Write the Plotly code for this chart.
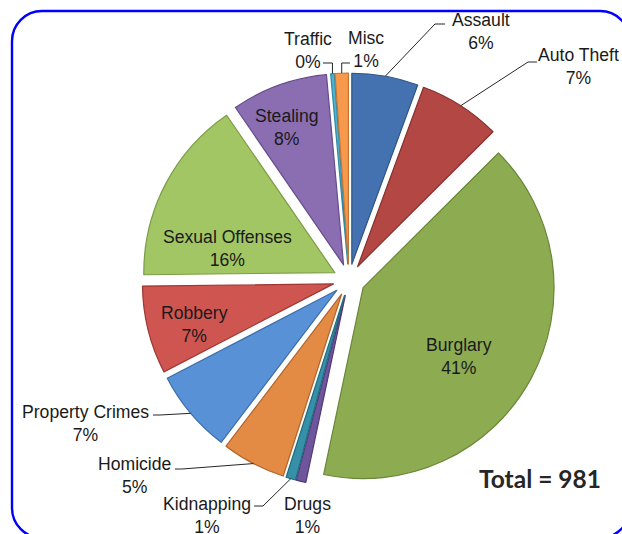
import math
import plotly.graph_objects as go

# ---------------- data ----------------
categories = ["Assault", "Auto Theft", "Burglary", "Drugs", "Kidnapping", "Homicide",
              "Property Crimes", "Robbery", "Sexual Offenses", "Stealing", "Traffic", "Misc"]
counts = [55, 68, 400, 8, 8, 53, 69, 73, 153, 80, 3, 11]

# ---------------- style ----------------
slice_colors = ["#4472B0", "#B24744", "#8DAC52", "#6F559C", "#3690A8", "#E38B45",
                "#5991D6", "#CF5551", "#A3C664", "#8B6DB2", "#4FB2CF", "#F7994C"]
edge_colors = ["#2F5488", "#86302E", "#6A8639", "#4F3A78", "#1F6B80", "#B0652A",
               "#3C6DAA", "#9E3632", "#7C9C45", "#664C8A", "#2F8AA5", "#C77430"]

W, H = 622, 534
DOM_X = [0.2283, 0.8939]
DOM_Y = [0.0880, 0.8633]
PULL = 0.084
FONT = "Liberation Sans, Arial, sans-serif"
FS = 17.6
TXT = "#1a1a1a"

# label layout (pixel positions of label centres), inside labels
inside_pos = {
    "Burglary": (459, 356),
    "Sexual Offenses": (227, 249),
    "Robbery": (194, 324),
    "Stealing": (287, 127),
}
# outside labels: centre, leader start point, knee x (None -> vertical drop)
outside_pos = {
    "Traffic": ((308, 50), (323, 63), None),
    "Misc": ((366, 49), (350, 63), None),
    "Assault": ((481, 31), (445, 24), 435),
    "Auto Theft": ((578, 67), (537, 62), 528),
    "Property Crimes": ((85, 423), (153, 415), 160),
    "Homicide": ((134, 475), (175, 469), 182),
    "Kidnapping": ((207, 515), (254, 506), 263),
    "Drugs": ((307, 515), None, None),
}


def px(x):
    return x / W


def py(y):
    return 1 - y / H


# pie geometry as plotly computes it (margins are zero)
box_w = W * (DOM_X[1] - DOM_X[0])
box_h = H * (DOM_Y[1] - DOM_Y[0])
cx = W * (DOM_X[0] + DOM_X[1]) / 2
cy = H * (1 - DOM_Y[0]) - box_h / 2
R = min(box_w, box_h) / 2 / (1 + PULL)

total = sum(counts)
mids = []
acc = 0
for v in counts:
    a0 = acc / total * 360
    acc += v
    a1 = acc / total * 360
    mids.append((a0 + a1) / 2)


def edge_point(i):
    a = math.radians(mids[i])
    ox = cx + PULL * R * math.sin(a)
    oy = cy - PULL * R * math.cos(a)
    return ox + R * math.sin(a), oy - R * math.cos(a)


fig = go.Figure()
fig.add_trace(go.Pie(
    labels=categories,
    values=counts,
    sort=False,
    direction="clockwise",
    rotation=0,
    pull=PULL,
    textinfo="none",
    marker=dict(colors=slice_colors, line=dict(color=edge_colors, width=1.2)),
    domain=dict(x=DOM_X, y=DOM_Y),
    showlegend=False,
))

annotations = []
shapes = []
for i, cat in enumerate(categories):
    pct = round(100 * counts[i] / total)
    text = f"{cat}<br>{pct}%"
    if cat in inside_pos:
        x, y = inside_pos[cat]
        start = None
        knee = None
    else:
        (x, y), start, knee = outside_pos[cat]
    annotations.append(dict(
        x=px(x), y=py(y), xref="paper", yref="paper", text=text, showarrow=False,
        xanchor="center", yanchor="middle", align="center",
        font=dict(family=FONT, size=FS, color=TXT),
    ))
    if start is not None:
        ex, ey = edge_point(i)
        kx = ex if knee is None else knee
        path = (f"M {px(start[0])} {py(start[1])} L {px(kx)} {py(start[1])} "
                f"L {px(ex)} {py(ey)}")
        shapes.append(dict(type="path", path=path, xref="paper", yref="paper",
                           line=dict(color="#262626", width=1)))

annotations.append(dict(
    x=px(540), y=py(478), xref="paper", yref="paper",
    text=f"<b>Total = {total}</b>", showarrow=False,
    xanchor="center", yanchor="middle",
    font=dict(family="Lato, Open Sans, sans-serif", size=24.5, color="#262626"),
))

# rounded blue frame (partly beyond the canvas)
L, T, Rr, B, rad = 12, 11, 630, 538, 30
k = 0.5523 * rad
frame = (
    f"M {px(L + rad)} {py(T)} L {px(Rr - rad)} {py(T)} "
    f"C {px(Rr - rad + k)} {py(T)} {px(Rr)} {py(T + rad - k)} {px(Rr)} {py(T + rad)} "
    f"L {px(Rr)} {py(B - rad)} "
    f"C {px(Rr)} {py(B - rad + k)} {px(Rr - rad + k)} {py(B)} {px(Rr - rad)} {py(B)} "
    f"L {px(L + rad)} {py(B)} "
    f"C {px(L + rad - k)} {py(B)} {px(L)} {py(B - rad + k)} {px(L)} {py(B - rad)} "
    f"L {px(L)} {py(T + rad)} "
    f"C {px(L)} {py(T + rad - k)} {px(L + rad - k)} {py(T)} {px(L + rad)} {py(T)} Z"
)
shapes.append(dict(type="path", path=frame, xref="paper", yref="paper",
                   line=dict(color="#0000FF", width=2.4)))

fig.update_layout(
    width=W, height=H,
    margin=dict(l=0, r=0, t=0, b=0),
    paper_bgcolor="white",
    plot_bgcolor="white",
    annotations=annotations,
    shapes=shapes,
)

fig.write_html(
    "out.html",
    config={"displayModeBar": False},
    post_script="document.body.style.margin='0px';document.body.style.overflow='hidden';",
)
